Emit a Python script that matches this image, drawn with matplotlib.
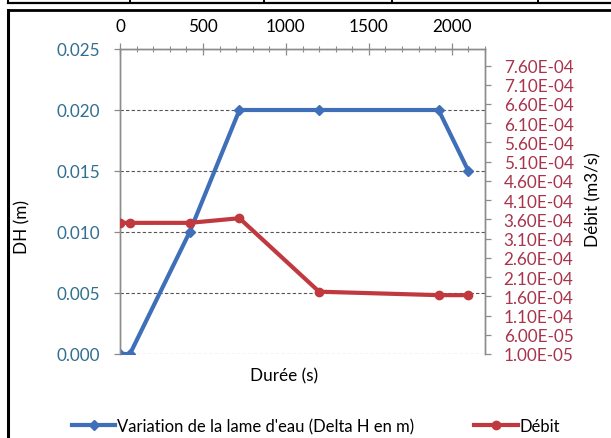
import matplotlib
matplotlib.use("Agg")
import matplotlib.pyplot as plt
from matplotlib.lines import Line2D
from matplotlib.ticker import MultipleLocator, FixedLocator, FixedFormatter

plt.rcParams['font.family'] = ['Lato', 'DejaVu Sans']

# Durée (s)
duree = [0, 60, 420, 720, 1200, 1920, 2100]
# Variation de la lame d'eau (m)
delta_h = [0.000, 0.000, 0.010, 0.020, 0.020, 0.020, 0.015]
# Débit (m3/s)
debit = [3.51e-4, 3.51e-4, 3.51e-4, 3.63e-4, 1.72e-4, 1.63e-4, 1.63e-4]

x_ticks = [0, 500, 1000, 1500, 2000]
dh_ticks = [0.000, 0.005, 0.010, 0.015, 0.020, 0.025]
debit_ticks = [1e-5 + 5e-5 * k for k in range(16)]
debit_labels = ["%.2E" % v for v in debit_ticks]

BLUE = '#3F6FB9'
RED = '#C0393F'
LEFT_LBL = '#2F6F8F'
RIGHT_LBL = '#A8344C'
AXIS_GRAY = '#8C8C8C'
FS = 12.3

W, H = 611, 439
fig = plt.figure(figsize=(W / 100, H / 100), dpi=100)

x0, x1, y0, y1 = 120, 485, 50, 355
ax = fig.add_axes([x0 / W, 1 - y1 / H, (x1 - x0) / W, (y1 - y0) / H])
ax2 = ax.twinx()

ax.plot(duree, delta_h, color=BLUE, lw=3.0, marker='D', ms=5,
        mfc=BLUE, mec=BLUE, zorder=3, solid_capstyle='round')
ax2.plot(duree, debit, color=RED, lw=3.0, marker='o', ms=6,
         mfc=RED, mec=RED, zorder=3, solid_capstyle='round')

ax.set_xlim(0, 2200)
ax.set_ylim(0, 0.025)
ax2.set_ylim(1e-5, 8.03e-4)

# x axis on top
ax.xaxis.tick_top()
ax.xaxis.set_major_locator(FixedLocator(x_ticks))
ax.xaxis.set_minor_locator(MultipleLocator(100))
ax.tick_params(axis='x', which='major', direction='inout', length=8, width=0.9,
               color=AXIS_GRAY, labelsize=FS, labelcolor='black', pad=7)
ax.tick_params(axis='x', which='minor', direction='inout', length=5, width=0.8,
               color=AXIS_GRAY)

# left axis
ax.yaxis.set_major_locator(FixedLocator(dh_ticks))
ax.yaxis.set_major_formatter(FixedFormatter(["%.3f" % v for v in dh_ticks]))
ax.tick_params(axis='y', which='major', direction='out', length=4.5, width=0.9,
               color=AXIS_GRAY, labelsize=FS, labelcolor=LEFT_LBL, pad=10)
ax.grid(axis='y', which='major', color='#555555', lw=0.8, ls=(0, (3, 2)))
ax.set_ylabel('DH (m)', fontsize=FS, color='black')
ax.yaxis.set_label_coords(-0.245, 0.42)

# right axis
ax2.yaxis.set_major_locator(FixedLocator(debit_ticks))
ax2.yaxis.set_major_formatter(FixedFormatter(debit_labels))
ax2.tick_params(axis='y', which='major', direction='out', length=4.5, width=0.9,
                color=AXIS_GRAY, labelsize=FS, labelcolor=RIGHT_LBL, pad=9)
ax2.set_ylabel('Débit (m3/s)', fontsize=FS, color='black', labelpad=4)
ax2.yaxis.set_label_coords(1.275, 0.51)

for a in (ax, ax2):
    for side in ('left', 'right', 'top'):
        a.spines[side].set_color(AXIS_GRAY)
        a.spines[side].set_linewidth(1.0)
    a.spines['bottom'].set_visible(False)
ax.patch.set_visible(False)

fig.text(284 / W, 1 - 376 / H, 'Durée (s)', fontsize=FS, ha='center', va='center')

handles = [
    Line2D([], [], color=BLUE, lw=3.0, marker='D', ms=5, mfc=BLUE, mec=BLUE),
    Line2D([], [], color=RED, lw=3.0, marker='o', ms=6, mfc=RED, mec=RED),
]
fig.legend(handles, ["Variation de la lame d'eau (Delta H en m)", 'Débit'],
           loc='center', bbox_to_anchor=(316 / W, 1 - 427 / H), ncol=2,
           frameon=False, fontsize=12, numpoints=1, handlelength=2.6,
           handletextpad=0.12, columnspacing=3.6)

# surrounding frame and table strip
def fig_line(xs, ys, lw):
    fig.add_artist(Line2D([x / W for x in xs], [1 - y / H for y in ys],
                          color='black', lw=lw, transform=fig.transFigure))

fig_line([8, W], [3.5, 3.5], 1.6)
for xv in (8, 130, 264, 392, 538):
    fig_line([xv, xv], [0, 3.5], 1.4)
fig_line([8, W], [11, 11], 2.0)
fig_line([8, 8], [11, H], 2.2)

fig.savefig('out.png', dpi=100)
